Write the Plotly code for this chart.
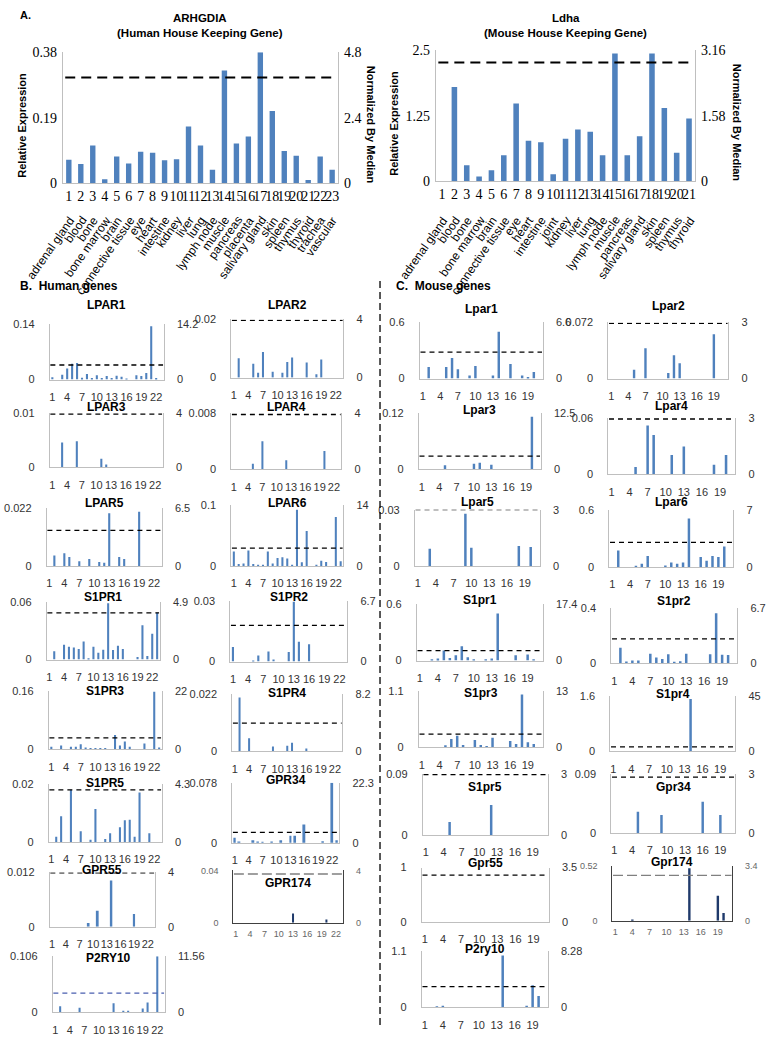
import plotly.graph_objects as go

W, H = 773, 1049

# ---------------- data ----------------
human_tissues = ["adrenal gland", "blood", "bone", "bone marrow", "brain", "connective tissue", "eye",
                 "heart", "intestine", "kidney", "liver", "lung", "lymph node", "muscle", "pancreas",
                 "placenta", "salivary gland", "skin", "spleen", "thymus", "thyroid", "trachea", "vascular"]
mouse_tissues = ["adrenal gland", "blood", "bone", "bone marrow", "brain", "connective tissue", "eye",
                 "heart", "intestine", "joint", "kidney", "liver", "lung", "lymph node", "muscle",
                 "pancreas", "salivary gland", "skin", "spleen", "thymus", "thyroid"]

ARHGDIA = [0.069, 0.056, 0.110, 0.012, 0.078, 0.058, 0.092, 0.089, 0.067, 0.070, 0.165, 0.110,
           0.040, 0.327, 0.116, 0.136, 0.380, 0.210, 0.094, 0.080, 0.010, 0.078, 0.040]
Ldha = [0.0, 1.80, 0.31, 0.094, 0.213, 0.50, 1.485, 0.777, 0.746, 0.138, 0.815, 0.99, 0.95, 0.50,
        2.44, 0.50, 0.86, 2.44, 1.40, 0.55, 1.20]
housekeeping_left_ticks = [[0, 0.19, 0.38], [0, 1.25, 2.5]]
housekeeping_right_ticks = [[0, 2.4, 4.8], [0, 1.58, 3.16]]
housekeeping_dashed = [0.307, 2.27]

# Human genes (23 tissues)
LPAR1 = [0.006, 0, 0.012, 0.028, 0.040, 0.042, 0.005, 0.014, 0.004, 0.011, 0.004, 0.009, 0.004, 0.010,
         0.007, 0.003, 0, 0.011, 0.009, 0.017, 0.135, 0.004, 0]
LPAR2 = [0, 0.0067, 0, 0, 0.0048, 0.0017, 0.0088, 0, 0.002, 0, 0.0017, 0.0054, 0.0069, 0, 0, 0.0052,
         0, 0.0012, 0.0062, 0, 0, 0, 0]
LPAR3 = [0, 0, 0.0046, 0, 0, 0.0048, 0, 0, 0, 0, 0.0016, 0.0005, 0, 0, 0, 0, 0, 0, 0, 0, 0, 0, 0]
LPAR4 = [0, 0, 0, 0, 0.0008, 0, 0.004, 0, 0, 0, 0, 0.0013, 0, 0, 0, 0, 0, 0, 0, 0.0026, 0, 0, 0]
LPAR5 = [0, 0.0039, 0, 0.0048, 0.0034, 0, 0.0018, 0, 0.0026, 0, 0.0015, 0.0012, 0.0199, 0, 0.0034,
         0.0026, 0, 0, 0.0205, 0, 0, 0, 0]
LPAR6 = [0.0235, 0.003, 0.004, 0.025, 0.003, 0.002, 0.001, 0.0235, 0.004, 0.013, 0.014, 0.012, 0.002,
         0.092, 0.006, 0.057, 0, 0.002, 0.0085, 0.0064, 0, 0.080, 0.0075]
S1PR1 = [0, 0.0086, 0, 0.0154, 0.0134, 0.0127, 0.011, 0.0189, 0.0014, 0.0134, 0.0072, 0.0103, 0.059,
         0.0099, 0.0144, 0.011, 0, 0, 0.0027, 0.036, 0.0038, 0.027, 0.049]
S1PR2 = [0.0073, 0, 0, 0, 0.0005, 0.003, 0, 0.005, 0.001, 0, 0, 0.0048, 0.030, 0.0099, 0, 0.0086,
         0, 0, 0, 0, 0, 0, 0]
S1PR3 = [0.007, 0, 0.010, 0, 0.007, 0.007, 0.014, 0.0046, 0.003, 0.0037, 0.003, 0.002, 0, 0.039, 0.010,
         0.021, 0.007, 0, 0, 0.0155, 0, 0.158, 0.0046]
S1PR4 = [0, 0.0207, 0, 0.005, 0, 0, 0, 0, 0.0018, 0, 0, 0.0021, 0.0033, 0, 0, 0.001, 0, 0, 0, 0, 0, 0, 0]
S1PR5 = [0, 0.0018, 0.0088, 0, 0.0179, 0, 0.0037, 0, 0.0007, 0.0113, 0, 0.001, 0.003, 0, 0.005, 0.0074,
         0.0076, 0.0018, 0.017, 0, 0.003, 0, 0]
GPR34 = [0.0068, 0.0017, 0, 0, 0.0034, 0.0017, 0.0008, 0, 0.0017, 0, 0.0034, 0, 0.0093, 0.0093, 0,
         0.0237, 0, 0, 0, 0.002, 0, 0.078, 0.0034]
GPR55 = [0, 0, 0, 0, 0, 0, 0, 0, 0.0008, 0, 0.0035, 0, 0, 0.0102, 0, 0, 0, 0, 0.0028, 0, 0, 0, 0]
GPR174 = [0, 0, 0, 0, 0, 0, 0, 0, 0, 0, 0, 0, 0.007, 0, 0, 0, 0, 0, 0, 0.0025, 0, 0, 0]
P2RY10 = [0, 0.0117, 0, 0, 0, 0.0086, 0, 0, 0, 0, 0, 0, 0.0173, 0, 0.003, 0.003, 0, 0, 0.0074, 0.0185,
          0, 0.106, 0]

# Mouse genes (21 tissues)
Lpar1 = [0, 0.124, 0, 0, 0.124, 0.219, 0.099, 0, 0.032, 0.134, 0, 0, 0.032, 0.50, 0, 0.155, 0, 0.032,
         0.018, 0.071, 0]
Lpar2 = [0, 0, 0, 0, 0.0113, 0, 0.039, 0, 0, 0, 0.0071, 0.030, 0.0197, 0, 0, 0, 0, 0, 0.057, 0, 0]
Lpar3 = [0, 0, 0, 0, 0.0084, 0, 0, 0, 0, 0.012, 0.014, 0, 0.0098, 0, 0, 0, 0, 0, 0, 0.112, 0]
Lpar4 = [0, 0, 0, 0, 0.0077, 0, 0.052, 0.042, 0, 0, 0.0206, 0, 0.0297, 0, 0, 0, 0, 0.010, 0, 0.0206, 0]
Lpar5 = [0, 0, 0.0092, 0, 0, 0, 0, 0, 0.0279, 0.0097, 0, 0, 0, 0, 0, 0, 0, 0.0106, 0, 0.0101, 0]
Lpar6 = [0, 0.171, 0, 0, 0.010, 0.034, 0.113, 0, 0, 0.014, 0.045, 0.034, 0.045, 0.507, 0, 0.103, 0.065,
         0.113, 0.103, 0.213, 0]
S1pr1 = [0, 0, 0.011, 0.021, 0.106, 0.028, 0.056, 0.152, 0.035, 0.011, 0, 0.011, 0.021, 0.501, 0, 0,
         0.056, 0, 0.064, 0.014, 0]
S1pr2 = [0, 0.114, 0.014, 0.021, 0.021, 0, 0.071, 0.043, 0.033, 0.067, 0.012, 0.017, 0.071, 0, 0, 0,
         0.067, 0.364, 0.064, 0.062, 0]
S1pr3 = [0, 0, 0, 0, 0.039, 0.162, 0.226, 0.045, 0, 0.142, 0.045, 0.026, 0.188, 0, 0, 0.123, 0.065,
         1.035, 0.097, 0.065, 0]
S1pr4 = [0, 0, 0, 0, 0, 0, 0, 0.005, 0, 0, 0, 0, 0, 1.51, 0, 0, 0, 0, 0, 0.005, 0]
S1pr5 = [0, 0, 0, 0, 0.0193, 0, 0, 0, 0, 0, 0, 0.0443, 0, 0, 0, 0, 0, 0, 0, 0, 0]
Gpr34 = [0, 0, 0, 0, 0.0325, 0, 0, 0, 0.0275, 0, 0, 0, 0, 0, 0, 0.0475, 0, 0, 0.0275, 0, 0]
Gpr55 = [0] * 21
Gpr174 = [0, 0, 0, 0.006, 0, 0, 0, 0, 0, 0, 0, 0, 0, 0.495, 0, 0, 0, 0, 0.236, 0.073, 0]
P2ry10 = [0, 0, 0.019, 0.032, 0, 0, 0, 0, 0, 0, 0, 0, 0, 1.016, 0, 0, 0, 0.032, 0.434, 0.226, 0]

human_names = ["LPAR1", "LPAR2", "LPAR3", "LPAR4", "LPAR5", "LPAR6", "S1PR1", "S1PR2", "S1PR3",
               "S1PR4", "S1PR5", "GPR34", "GPR55", "GPR174", "P2RY10"]
human_values = [LPAR1, LPAR2, LPAR3, LPAR4, LPAR5, LPAR6, S1PR1, S1PR2, S1PR3, S1PR4, S1PR5, GPR34,
                GPR55, GPR174, P2RY10]
human_left_max = [0.14, 0.02, 0.01, 0.008, 0.022, 0.1, 0.06, 0.03, 0.16, 0.022, 0.02, 0.078, 0.012, 0.04, 0.106]
human_right_max = [14.2, 4, 4, 4, 6.5, 14, 4.9, 6.7, 22, 8.2, 4.3, 22.3, 4, 4, 11.56]
human_dashed = [0.037, 0.0197, 0.0098, 0.0078, 0.0134, 0.029, 0.049, 0.018, 0.031, 0.0108, 0.0179,
                0.0136, 0.0119, 0.0373, 0.0364]
human_ticks = [1, 4, 7, 10, 13, 16, 19, 22]

mouse_names = ["Lpar1", "Lpar2", "Lpar3", "Lpar4", "Lpar5", "Lpar6", "S1pr1", "S1pr2", "S1pr3",
               "S1pr4", "S1pr5", "Gpr34", "Gpr55", "Gpr174", "P2ry10"]
mouse_values = [Lpar1, Lpar2, Lpar3, Lpar4, Lpar5, Lpar6, S1pr1, S1pr2, S1pr3, S1pr4, S1pr5, Gpr34,
                Gpr55, Gpr174, P2ry10]
mouse_left_max = [0.6, 0.072, 0.12, 0.06, 0.03, 0.6, 0.6, 0.4, 1.1, 1.6, 0.09, 0.09, 1, 0.52, 1.1]
mouse_right_max = [6.6, 3, 12.5, 3, 3, 7, 17.4, 6.7, 13, 45, 3, 3, 3.5, 3.4, 8.28]
mouse_dashed = [0.282, 0.0707, 0.028, 0.059, 0.030, 0.257, 0.106, 0.179, 0.259, 0.125, 0.089, 0.085,
                0.86, 0.428, 0.408]
mouse_ticks = [1, 4, 7, 10, 13, 16, 19]

# ---------------- layout geometry (pixels): x_left, x_right, y_top, y_base, title_y -------------
human_geom = [(49, 163, 322, 378, 302), (231, 343, 317, 376, 302),
              (49, 162, 412, 467, 406), (231, 341, 412, 469, 406),
              (46, 161, 508, 567, 503), (231, 343, 505, 567, 503),
              (46, 159, 604, 662, 599), (230, 347, 603, 664, 599),
              (48, 161, 694, 753, 694), (232, 342, 697, 755, 696),
              (48, 161, 788, 847, 787), (232, 339, 787, 848, 784),
              (49, 154, 878, 933, 876), (233, 343, 876, 929, 889),
              (52, 164, 963, 1020, 965)]
mouse_geom = [(420, 543, 320, 377, 306), (609, 729, 320, 377, 303),
              (419, 541, 412, 469, 409), (609, 736, 417, 474, 405),
              (415, 540, 510, 567, 502), (610, 734, 510, 568, 502),
              (417, 543, 606, 663, 602), (612, 738, 610, 666, 603),
              (419, 543, 694, 751, 696), (611, 736, 699, 755, 697),
              (423, 548, 778, 840, 791), (612, 736, 778, 838, 791),
              (422, 549, 873, 928, 868), (613, 733, 871, 927, 867),
              (422, 548, 958, 1015, 956)]

SANS = "Liberation Sans, Arial, sans-serif"
SERIF = "Liberation Serif, Times New Roman, serif"
BLUE = "#4F81BD"
NAVY = "#1F3A6B"
AXC = "#BFBFBF"


def px(x):
    return x / W


def py(y):
    return 1 - y / H


def fmt(v):
    s = repr(v)
    return s[:-2] if s.endswith(".0") else s


fig = go.Figure()
layout = dict(width=W, height=H, margin=dict(l=0, r=0, t=0, b=0, pad=0), autosize=False,
              paper_bgcolor="white", plot_bgcolor="white", showlegend=False,
              font=dict(family=SANS, color="#333333"))
annotations = []
shapes = []
counter = [0]


def note(text, x, y, size, xanchor="center", yanchor="middle", angle=0, xref="paper", color="black",
         family=SANS, xshift=0, yshift=0):
    annotations.append(dict(text=text, x=x, y=y, xref=xref, yref="paper", showarrow=False,
                            xanchor=xanchor, yanchor=yanchor, textangle=angle,
                            xshift=xshift, yshift=yshift,
                            font=dict(size=size, color=color, family=family)))


def new_axes():
    counter[0] += 1
    p = counter[0] - 1
    xn, yl, yr = p + 1, 2 * p + 1, 2 * p + 2
    def key(a, n):
        return a + ("" if n == 1 else str(n))
    def ref(a, n):
        return a + ("" if n == 1 else str(n))
    return (key("xaxis", xn), ref("x", xn), key("yaxis", yl), ref("y", yl), key("yaxis", yr), ref("y", yr))


def small_panel(title, values, lmax, rmax, dval, geom, ticks, special=False, dash_color="black"):
    x0, x1, yt, yb, ty = geom
    n = len(values)
    xk, xr, ylk, ylr, yrk, yrr = new_axes()
    bar_col = NAVY if special else BLUE
    line_col = "#404040" if special else AXC
    tfs = 9 if special else 11
    tcol = "#666666" if special else "#333333"
    fig.add_trace(go.Bar(x=list(range(1, n + 1)), y=values, width=0.42, marker_color=bar_col,
                         marker_line_width=0, xaxis=xr, yaxis=ylr, hoverinfo="skip"))
    fig.add_trace(go.Scatter(x=[0.6, n + 0.4], y=[dval, dval], mode="lines", cliponaxis=False,
                             line=dict(color=dash_color if not special else "#808080",
                                       width=1.3, dash="10px,4px" if special else "5px,4px"),
                             xaxis=xr, yaxis=ylr, hoverinfo="skip"))
    # empty trace so the right-hand (normalized) axis is drawn
    fig.add_trace(go.Scatter(x=[], y=[], xaxis=xr, yaxis=yrr, hoverinfo="skip"))
    layout[xk] = dict(domain=[px(x0), px(x1)], anchor=ylr, range=[0.5, n + 0.5], tickmode="array",
                      tickvals=ticks, ticktext=[str(t) for t in ticks], tickangle=0, ticks="",
                      showline=True, linecolor=line_col, linewidth=1.2, showgrid=False, zeroline=False,
                      tickfont=dict(size=tfs, color=tcol, family=SANS),
                      ticklabelstandoff=2 if special else 7)
    layout[ylk] = dict(domain=[py(yb), py(yt)], anchor=xr, range=[0, lmax], tickmode="array",
                       tickvals=[0, lmax], ticktext=["0", fmt(lmax)], ticks="", showline=True,
                       linecolor=line_col, linewidth=1.2, showgrid=False, zeroline=False,
                       tickfont=dict(size=tfs, color=tcol, family=SANS), ticklabelstandoff=12)
    layout[yrk] = dict(overlaying=ylr, side="right", anchor=xr, range=[0, rmax], tickmode="array",
                       tickvals=[0, rmax], ticktext=["0", fmt(rmax)], ticks="", showline=True,
                       linecolor=line_col, linewidth=1.2, showgrid=False, zeroline=False,
                       tickfont=dict(size=tfs, color=tcol, family=SANS), ticklabelstandoff=10)
    note("<b>%s</b>" % title, px((x0 + x1) / 2), py(ty), 12)


def big_panel(title, subtitle, values, tissues, lticks, rticks, dval, geom, ltitle_x, rtitle_x):
    x0, x1, yt, yb = geom
    n = len(values)
    xk, xr, ylk, ylr, yrk, yrr = new_axes()
    fig.add_trace(go.Bar(x=list(range(1, n + 1)), y=values, width=0.45, marker_color=BLUE,
                         marker_line_width=0, xaxis=xr, yaxis=ylr, hoverinfo="skip"))
    fig.add_trace(go.Scatter(x=[0.7, n + 0.3], y=[dval, dval], mode="lines", cliponaxis=False,
                             line=dict(color="black", width=2, dash="10px,6px"),
                             xaxis=xr, yaxis=ylr, hoverinfo="skip"))
    fig.add_trace(go.Scatter(x=[], y=[], xaxis=xr, yaxis=yrr, hoverinfo="skip"))
    layout[xk] = dict(domain=[px(x0), px(x1)], anchor=ylr, range=[0.5, n + 0.5], tickmode="array",
                      tickvals=list(range(1, n + 1)), ticktext=[str(i) for i in range(1, n + 1)],
                      tickangle=0, ticks="", showline=True, linecolor=AXC, linewidth=1.2,
                      showgrid=False, zeroline=False, ticklabelstandoff=0,
                      tickfont=dict(size=14, color="black", family=SERIF))
    layout[ylk] = dict(domain=[py(yb), py(yt)], anchor=xr, range=[lticks[0], lticks[-1]],
                       tickmode="array", tickvals=lticks, ticktext=[fmt(v) for v in lticks],
                       ticks="", showline=True, linecolor=AXC, linewidth=1.2, showgrid=False,
                       zeroline=False, ticklabelstandoff=2,
                       tickfont=dict(size=14, color="black", family=SERIF))
    layout[yrk] = dict(overlaying=ylr, side="right", anchor=xr, range=[rticks[0], rticks[-1]],
                       tickmode="array", tickvals=rticks, ticktext=[fmt(v) for v in rticks],
                       ticks="", showline=True, linecolor=AXC, linewidth=1.2, showgrid=False,
                       zeroline=False, ticklabelstandoff=2,
                       tickfont=dict(size=14, color="black", family=SERIF))
    cx = px((x0 + x1) / 2)
    note("<b>%s</b>" % title, cx, py(11), 11.5)
    note("<b>%s</b>" % subtitle, cx, py(26), 11.5)
    mid = py((yt + yb) / 2 + 7)
    note("<b>Relative Expression</b>", px(ltitle_x), mid, 11, angle=-90)
    note("<b>Normalized By Median</b>", px(rtitle_x), mid, 11, angle=90)
    for i, name in enumerate(tissues):
        note(name, i + 0.85, py(201), 12, xanchor="right", yanchor="top", angle=-55, xref=xr,
             xshift=13, yshift=-6)


big_panel("ARHGDIA", "(Human House Keeping Gene)", ARHGDIA, human_tissues,
          housekeeping_left_ticks[0], housekeeping_right_ticks[0], housekeeping_dashed[0],
          (62, 338, 46, 179), 21, 371)
big_panel("Ldha", "(Mouse House Keeping Gene)", Ldha, mouse_tissues,
          housekeeping_left_ticks[1], housekeeping_right_ticks[1], housekeeping_dashed[1],
          (436, 696, 44, 177), 394, 738)

for i in range(15):
    small_panel(human_names[i], human_values[i], human_left_max[i], human_right_max[i],
                human_dashed[i], human_geom[i], human_ticks, special=(human_names[i] == "GPR174"),
                dash_color="#4A5FB0" if human_names[i] == "P2RY10" else "black")
for i in range(15):
    small_panel(mouse_names[i], mouse_values[i], mouse_left_max[i], mouse_right_max[i],
                mouse_dashed[i], mouse_geom[i], mouse_ticks, special=(mouse_names[i] == "Gpr174"))

note("<b>A.</b>", px(17), py(8), 11, xanchor="left")
note("<b>B.  Human genes</b>", px(17), py(283), 12, xanchor="left")
note("<b>C.  Mouse genes</b>", px(394), py(283), 12, xanchor="left")
shapes.append(dict(type="line", xref="paper", yref="paper", x0=px(380), x1=px(380), y0=py(278),
                   y1=py(1035), line=dict(color="black", width=1.3, dash="7px,4px")))

layout["annotations"] = annotations
layout["shapes"] = shapes
fig.update_layout(**layout)
fig.write_html("out.html", config={"displayModeBar": False},
               post_script="document.body.style.margin='0px';")
